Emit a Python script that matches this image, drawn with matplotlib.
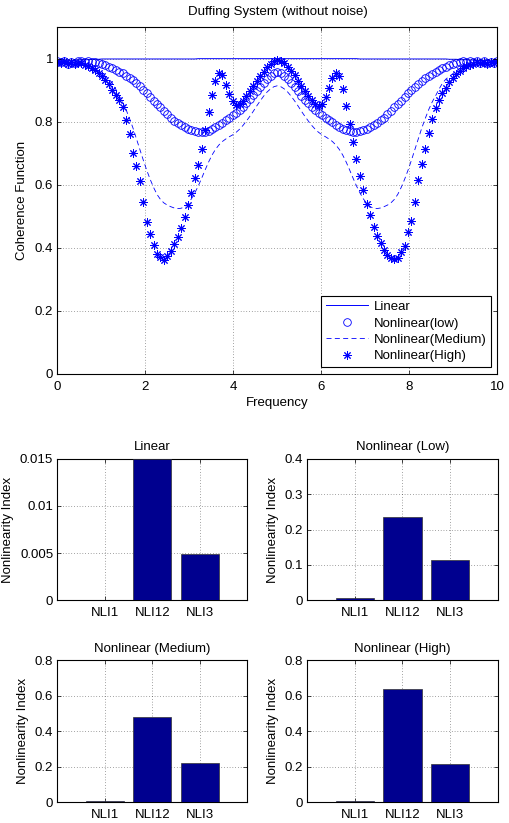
import numpy as np
import matplotlib
matplotlib.use('Agg')
import matplotlib.pyplot as plt

plt.rcParams['font.family'] = ['Liberation Sans', 'DejaVu Sans']
plt.rcParams['font.size'] = 9.5

# frequency grid (129 samples, 0..10)
freq = np.linspace(0, 10, 129)

# coherence values
coh_linear = [
    0.995, 0.992, 0.996, 0.993, 0.995, 0.994, 0.996, 0.997, 0.996, 0.997, 0.998,
    0.998, 0.998, 0.999, 0.999, 0.999, 0.999, 0.999, 0.999, 0.999, 0.999,
    0.999, 0.999, 0.999, 0.999, 0.999, 0.999, 0.999, 0.999, 0.999, 0.999,
    0.999, 0.999, 0.999, 0.999, 0.999, 0.999, 0.999, 0.999, 0.999, 0.999,
    1.000, 1.000, 1.000, 1.000, 1.000, 1.000, 1.000, 1.000, 1.000, 1.000,
    1.000, 1.000, 1.000, 1.000, 1.000, 1.000, 1.000, 1.000, 1.000, 1.000,
    1.000, 1.000, 1.000, 1.000,
    1.000, 1.000, 1.000, 1.000, 1.000, 1.000, 1.000, 1.000, 1.000, 1.000,
    1.000, 1.000, 1.000, 1.000, 1.000, 1.000, 1.000, 1.000, 1.000, 1.000,
    1.000, 1.000, 1.000, 0.999, 0.999, 0.999, 0.999, 0.999, 0.999, 0.999,
    0.999, 0.999, 0.999, 0.999, 0.999, 0.999, 0.999, 0.999, 0.999, 0.999,
    0.999, 0.999, 0.999, 0.999, 0.999, 0.999, 0.999, 0.999, 0.999, 0.998,
    0.998, 0.998, 0.997, 0.996, 0.997, 0.995, 0.996, 0.994, 0.995, 0.993,
    0.996, 0.992, 0.995, 0.994,
]
coh_low = [
    0.993, 0.988, 0.992, 0.984, 0.990, 0.986, 0.991, 0.994, 0.990, 0.993, 0.989,
    0.990, 0.987, 0.984, 0.980, 0.975, 0.969, 0.963, 0.958, 0.953, 0.946,
    0.939, 0.931, 0.922, 0.912, 0.902, 0.891, 0.879, 0.867, 0.856, 0.846,
    0.835, 0.824, 0.813, 0.803, 0.795, 0.788, 0.782, 0.777, 0.773, 0.770,
    0.768, 0.767, 0.768, 0.771, 0.776, 0.782, 0.789, 0.797, 0.805, 0.812,
    0.820, 0.829, 0.838, 0.848, 0.859, 0.871, 0.884, 0.897, 0.910, 0.923,
    0.935, 0.945, 0.953, 0.957,
    0.954, 0.946, 0.934, 0.922, 0.909, 0.896, 0.883, 0.870, 0.858, 0.847,
    0.837, 0.828, 0.820, 0.813, 0.806, 0.798, 0.790, 0.783, 0.777, 0.772,
    0.769, 0.767, 0.768, 0.770, 0.774, 0.778, 0.783, 0.789, 0.796, 0.804,
    0.813, 0.823, 0.834, 0.845, 0.856, 0.867, 0.878, 0.890, 0.901, 0.911,
    0.921, 0.930, 0.938, 0.946, 0.952, 0.958, 0.964, 0.970, 0.975, 0.980,
    0.984, 0.987, 0.989, 0.991, 0.988, 0.992, 0.989, 0.993, 0.987, 0.991,
    0.986, 0.990, 0.985, 0.992,
]
coh_medium = [
    0.990, 0.988, 0.991, 0.987, 0.989, 0.986, 0.988, 0.987, 0.984, 0.980, 0.975,
    0.968, 0.960, 0.952, 0.944, 0.935, 0.922, 0.903, 0.882, 0.862, 0.838,
    0.810, 0.780, 0.746, 0.712, 0.678, 0.646, 0.617, 0.591, 0.569, 0.553,
    0.542, 0.535, 0.530, 0.526, 0.524, 0.525, 0.530, 0.540, 0.555, 0.574,
    0.596, 0.621, 0.647, 0.672, 0.694, 0.712, 0.726, 0.737, 0.745, 0.752,
    0.758, 0.766, 0.776, 0.788, 0.802, 0.817, 0.833, 0.850, 0.866, 0.881,
    0.894, 0.904, 0.911, 0.914,
    0.911, 0.904, 0.894, 0.881, 0.866, 0.850, 0.833, 0.817, 0.802, 0.788,
    0.776, 0.766, 0.758, 0.752, 0.745, 0.737, 0.726, 0.712, 0.694, 0.672,
    0.647, 0.621, 0.596, 0.574, 0.555, 0.540, 0.530, 0.525, 0.524, 0.526,
    0.530, 0.535, 0.542, 0.553, 0.569, 0.591, 0.617, 0.646, 0.678, 0.712,
    0.746, 0.780, 0.810, 0.838, 0.862, 0.882, 0.903, 0.922, 0.935, 0.944,
    0.952, 0.960, 0.968, 0.975, 0.980, 0.984, 0.987, 0.988, 0.986, 0.989,
    0.987, 0.991, 0.988, 0.990,
]
coh_high = [
    0.990, 0.985, 0.992, 0.984, 0.988, 0.983, 0.987, 0.985, 0.980, 0.976, 0.970,
    0.963, 0.955, 0.944, 0.932, 0.918, 0.902, 0.885, 0.868, 0.845, 0.805,
    0.760, 0.702, 0.658, 0.612, 0.545, 0.480, 0.443, 0.408, 0.380, 0.370,
    0.362, 0.372, 0.390, 0.410, 0.435, 0.462, 0.497, 0.535, 0.573, 0.620,
    0.662, 0.712, 0.775, 0.830, 0.885, 0.930, 0.953, 0.947, 0.916, 0.887,
    0.864, 0.852, 0.855, 0.866, 0.880, 0.896, 0.912, 0.928, 0.944, 0.958,
    0.972, 0.983, 0.991, 0.995,
    0.993, 0.986, 0.975, 0.962, 0.947, 0.930, 0.914, 0.898, 0.882, 0.868,
    0.857, 0.851, 0.856, 0.878, 0.906, 0.938, 0.955, 0.945, 0.905, 0.850,
    0.792, 0.735, 0.680, 0.628, 0.582, 0.540, 0.503, 0.467, 0.438, 0.414,
    0.392, 0.378, 0.368, 0.363, 0.366, 0.385, 0.405, 0.450, 0.485, 0.545,
    0.615, 0.665, 0.712, 0.765, 0.808, 0.842, 0.870, 0.890, 0.908, 0.925,
    0.940, 0.952, 0.961, 0.969, 0.976, 0.981, 0.984, 0.988, 0.985, 0.989,
    0.984, 0.990, 0.986, 0.991,
]

# nonlinearity indices
nli_labels = ['NLI1', 'NLI12', 'NLI3']
nli_titles = ['Linear', 'Nonlinear (Low)', 'Nonlinear (Medium)', 'Nonlinear (High)']
nli_values = [
    [0.00005, 0.01495, 0.0049],
    [0.0075, 0.236, 0.114],
    [0.004, 0.479, 0.222],
    [0.003, 0.638, 0.216],
]
nli_ylim = [0.015, 0.4, 0.8, 0.8]
nli_ticks = [
    [0, 0.005, 0.01, 0.015],
    [0, 0.1, 0.2, 0.3, 0.4],
    [0, 0.2, 0.4, 0.6, 0.8],
    [0, 0.2, 0.4, 0.6, 0.8],
]


def matlab_axes(ax):
    ax.tick_params(direction='in', top=True, right=True, length=3, width=0.5, labelsize=9.5, pad=3)
    ax.tick_params(axis='x', pad=5)
    for s in ax.spines.values():
        s.set_linewidth(0.8)
    ax.grid(True, linestyle=(0, (1, 3)), color='black', linewidth=0.5, alpha=0.7)
    ax.set_axisbelow(False)


def fmt(v):
    return '%g' % v


fig = plt.figure(figsize=(5.09, 8.23), dpi=100)

ax = fig.add_axes([0.1126, 0.546, 0.8647, 0.421])
ax.plot(freq, coh_linear, 'b-', linewidth=0.7, label='Linear')
ax.plot(freq, coh_low, 'o', color='blue', mfc='none', ms=5.5, mew=0.6, label='Nonlinear(low)')
ax.plot(freq, coh_medium, '--', color='blue', linewidth=0.6, dashes=(6, 4), label='Nonlinear(Medium)')
ax.plot(freq, coh_high, linestyle='none', marker=(8, 2, 0), color='blue', ms=6, mew=0.7,
        label='Nonlinear(High)')
ax.set_xlim(0, 10)
ax.set_ylim(0, 1.1)
ax.set_xticks([0, 2, 4, 6, 8, 10])
ax.set_yticks([0, 0.2, 0.4, 0.6, 0.8, 1])
ax.set_yticklabels([fmt(v) for v in [0, 0.2, 0.4, 0.6, 0.8, 1]])
ax.set_xlabel('Frequency', labelpad=3)
ax.set_ylabel('Coherence Function', labelpad=5)
ax.set_title('Duffing System (without noise)', fontsize=9.5, pad=9)
matlab_axes(ax)
leg = ax.legend(loc='lower right', fancybox=False, edgecolor='black', framealpha=1,
                handlelength=3.2, borderaxespad=0.5, labelspacing=0.32, borderpad=0.35,
                handletextpad=0.4, fontsize=9.5)
leg.get_frame().set_linewidth(0.8)

positions = [
    [0.1126, 0.2706, 0.3733, 0.172],
    [0.6037, 0.2706, 0.3740, 0.172],
    [0.1126, 0.0255, 0.3733, 0.1725],
    [0.6037, 0.0255, 0.3740, 0.1725],
]
x = np.arange(1, 4)
for k in range(4):
    bx = fig.add_axes(positions[k])
    bx.bar(x, nli_values[k], width=0.8, color='#00008f', edgecolor='#333333', linewidth=0.5, zorder=3)
    bx.set_xlim(0, 4)
    bx.set_ylim(0, nli_ylim[k])
    bx.set_xticks(x)
    bx.set_xticklabels(nli_labels)
    bx.set_yticks(nli_ticks[k])
    bx.set_yticklabels([fmt(v) for v in nli_ticks[k]])
    bx.set_ylabel('Nonlinearity Index', labelpad=4)
    bx.set_title(nli_titles[k], fontsize=9.5, pad=6)
    matlab_axes(bx)
    bx.set_axisbelow(True)

fig.savefig('out.png', dpi=100)
